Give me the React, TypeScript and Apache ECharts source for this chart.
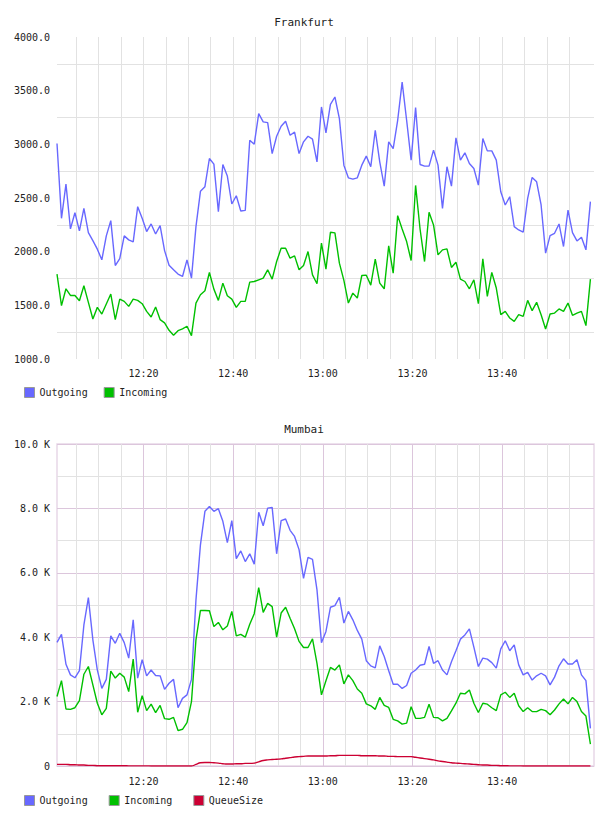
import React, { useEffect, useRef } from "react";
import * as echarts from "echarts";

// minute offsets from 12:00 of each sample (one sample per minute, first at 12:00:42)
const START_MINUTE = 0.7;
const X_MIN = 0.7;
const X_MAX = 120.5;

const timeLabels = [20, 40, 60, 80, 100];
const minorTimeTicks = [5, 10, 15, 25, 30, 35, 45, 50, 55, 65, 70, 75, 85, 90, 95, 105, 110, 115];
const allTimeTicks = [5, 10, 15, 20, 25, 30, 35, 40, 45, 50, 55, 60, 65, 70, 75, 80, 85, 90, 95, 100, 105, 110, 115];

const frankfurtOutgoing = [
  3007, 2311, 2630, 2212, 2363, 2193, 2404, 2178, 2103, 2023,
  1924, 2147, 2289, 1871, 1936, 2147, 2110, 2091, 2419, 2311,
  2187, 2258, 2165, 2243, 2010, 1874, 1831, 1791, 1769, 1924,
  1753, 2233, 2562, 2605, 2868, 2815, 2373, 2812, 2704, 2444,
  2521, 2379, 2385, 3038, 3001, 3286, 3209, 3202, 2914, 3075,
  3168, 3215, 3085, 3113, 2914, 3023, 3075, 3048, 2837, 3348,
  3106, 3373, 3441, 3240, 2806, 2688, 2676, 2688, 2806, 2890,
  2791, 3131, 2837, 2611, 3023, 2961, 3224, 3580, 3224, 2853,
  3342, 2812, 2797, 2797, 2946, 2806, 2404, 2791, 2611, 3060,
  2853, 2921, 2822, 2775, 2620, 3054, 2939, 2939, 2853, 2558,
  2435, 2512, 2233, 2202, 2181, 2497, 2692, 2651, 2435, 1986,
  2150, 2171, 2258, 2048, 2388, 2178, 2100, 2134, 2017, 2466,
];

const frankfurtIncoming = [
  1791, 1497, 1654, 1592, 1592, 1543, 1682, 1528, 1373, 1481,
  1419, 1512, 1605, 1367, 1558, 1537, 1490, 1558, 1546, 1515,
  1444, 1391, 1484, 1367, 1336, 1267, 1221, 1264, 1280, 1305,
  1218, 1521, 1599, 1636, 1806, 1651, 1546, 1707, 1589, 1558,
  1481, 1537, 1537, 1716, 1722, 1738, 1753, 1831, 1744, 1908,
  2032, 2032, 1939, 1961, 1831, 1871, 2001, 1784, 1701, 2079,
  1837, 2181, 2175, 1893, 1732, 1521, 1614, 1568, 1778, 1781,
  1688, 1930, 1707, 1654, 2054, 1800, 2336, 2212, 2094, 1918,
  2617, 2209, 1908, 2367, 2249, 1970, 2017, 2026, 1853, 1902,
  1744, 1722, 1654, 1738, 1515, 1933, 1583, 1806, 1661, 1413,
  1444, 1382, 1351, 1413, 1397, 1546, 1450, 1528, 1413, 1280,
  1419, 1428, 1466, 1444, 1521, 1407, 1428, 1444, 1311, 1744,
];

const mumbaiOutgoing = [
  3840, 4090, 3160, 2830, 2740, 2960, 4380, 5230, 3920, 2980,
  2410, 2690, 4040, 3810, 4120, 3830, 3350, 4540, 2730, 3300,
  2800, 2980, 2810, 2800, 2380, 2570, 2690, 1810, 2100, 2210,
  2690, 5160, 6870, 7910, 8060, 7910, 7990, 7600, 6940, 7620,
  6440, 6680, 6350, 6590, 6270, 7880, 7460, 8010, 8030, 6590,
  7620, 7670, 7320, 7130, 6720, 5830, 6480, 6420, 5470, 3830,
  4180, 4930, 4980, 5240, 4440, 4800, 4540, 4210, 3940, 3270,
  3110, 3050, 3730, 3400, 2960, 2540, 2540, 2410, 2500, 2880,
  2980, 3130, 3160, 3710, 3190, 3270, 2980, 2830, 3240, 3580,
  3940, 4070, 4260, 3690, 3090, 3350, 3320, 3210, 3040, 3640,
  3890, 3580, 3760, 3140, 2830, 2910, 2670, 2800, 2880, 2800,
  2520, 2760, 3110, 3330, 3170, 3170, 3300, 2830, 2650, 1170,
];

const mumbaiIncoming = [
  2160, 2650, 1770, 1760, 1810, 2030, 2850, 3090, 2520, 1950,
  1590, 1790, 2950, 2730, 2880, 2760, 2310, 3320, 1670, 2180,
  1720, 1920, 1660, 1880, 1470, 1450, 1510, 1100, 1140, 1350,
  2000, 3920, 4830, 4830, 4820, 4330, 4460, 4230, 4350, 4800,
  4040, 4090, 4000, 4400, 4730, 5540, 4770, 5050, 4950, 4000,
  4750, 4930, 4590, 4260, 3870, 3680, 3680, 3950, 3190, 2210,
  2650, 3060, 2980, 3140, 2550, 2830, 2650, 2390, 2260, 1930,
  1870, 1760, 2130, 1880, 1820, 1450, 1400, 1300, 1330, 1840,
  1480, 1480, 1510, 1920, 1510, 1500, 1400, 1480, 1710, 1950,
  2260, 2240, 2360, 1950, 1660, 1950, 1920, 1810, 1720, 2210,
  2290, 2130, 2260, 1870, 1690, 1810, 1690, 1690, 1760, 1720,
  1590, 1740, 1930, 2080, 1930, 2130, 2000, 1690, 1550, 680,
];

const mumbaiQueueSize = [
  50, 50, 50, 40, 40, 30, 30, 20, 20, 10,
  10, 10, 10, 10, 10, 10, 5, 5, 5, 5,
  5, 0, 0, 0, 0, 0, 0, 0, 0, 0,
  0, 50, 100, 110, 110, 100, 90, 70, 60, 60,
  70, 70, 80, 80, 90, 130, 170, 190, 200, 210,
  220, 240, 260, 280, 290, 300, 310, 310, 310, 310,
  310, 320, 320, 330, 330, 330, 330, 330, 320, 320,
  320, 320, 310, 310, 300, 300, 290, 290, 290, 290,
  270, 250, 230, 210, 190, 160, 140, 120, 100, 90,
  80, 70, 60, 50, 40, 30, 30, 20, 20, 10,
  10, 5, 5, 5, 0, 0, 0, 0, 0, 0,
  0, 0, 0, 0, 0, 0, 0, 0, 0, 0,
];

const FRANKFURT_Y_LABELS_MIN = 1000;
const FRANKFURT_Y_LABELS_MAX = 4000;
const MUMBAI_Y_MAX = 10000;

const BLUE = "#6868ff";
const GREEN = "#00c000";
const RED = "#cc0033";
const FONT = "DejaVu Sans Mono";
const TEXT = "#222";
const MINOR = "#e2e2e2";
const MAJOR = "#dcc6dc";

function fmtTime(v: number): string {
  const h = 12 + Math.floor(v / 60);
  const m = Math.round(v % 60);
  return `${h}:${m < 10 ? "0" + m : m}`;
}

function pairs(values: number[]) {
  return values.map((v, i) => [START_MINUTE + i, v]);
}

export default function App() {
  const ref = useRef<HTMLDivElement>(null);

  useEffect(() => {
    if (!ref.current) return;
    const chart = echarts.init(ref.current, null, { renderer: "svg" });

    const lineSeries = (name: string, color: string, data: number[], xi: number, yi: number, smooth = false) => ({
      name,
      type: "line",
      xAxisIndex: xi,
      yAxisIndex: yi,
      data: pairs(data),
      showSymbol: false,
      smooth,
      color,
      itemStyle: { color },
      lineStyle: { color, width: 1.4 },
      z: 3,
    });

    const option: any = {
      animation: false,
      backgroundColor: "#fff",
      textStyle: { fontFamily: FONT },
      title: [
        {
          text: "Frankfurt",
          left: "center",
          top: 12,
          textStyle: { fontFamily: FONT, fontSize: 11, fontWeight: "normal", color: TEXT },
        },
        {
          text: "Mumbai",
          left: "center",
          top: 419,
          textStyle: { fontFamily: FONT, fontSize: 11, fontWeight: "normal", color: TEXT },
        },
      ],
      legend: [
        {
          data: ["Outgoing", "Incoming"],
          left: 24,
          top: 387,
          icon: "rect",
          itemWidth: 10,
          itemHeight: 10,
          itemGap: 16,
          padding: 0,
          itemStyle: { borderColor: "#999", borderWidth: 1 },
          textStyle: { fontFamily: FONT, fontSize: 10, color: TEXT },
          selectedMode: false,
        },
        {
          data: ["Outgoing", "Incoming", "QueueSize"],
          left: 24,
          top: 795,
          icon: "rect",
          itemWidth: 10,
          itemHeight: 10,
          itemGap: 21,
          padding: 0,
          itemStyle: { borderColor: "#999", borderWidth: 1 },
          textStyle: { fontFamily: FONT, fontSize: 10, color: TEXT },
          selectedMode: false,
        },
      ],
      grid: [
        { left: 57, top: 37, width: 537, height: 322 },
        { left: 57, top: 444, width: 537, height: 322, show: true, borderColor: "#e8d8e8", borderWidth: 1.5, backgroundColor: "transparent" },
      ],
      xAxis: [
        {
          gridIndex: 0,
          type: "value",
          min: X_MIN,
          max: X_MAX,
          axisLine: { show: false },
          axisTick: { show: false, customValues: allTimeTicks },
          axisLabel: {
            customValues: timeLabels,
            formatter: fmtTime,
            fontFamily: FONT,
            fontSize: 10,
            color: TEXT,
            margin: 9,
          },
          splitLine: { show: true, lineStyle: { color: MINOR, width: 1 } },
        },
        {
          gridIndex: 1,
          type: "value",
          min: X_MIN,
          max: X_MAX,
          position: "top",
          axisLine: { show: false },
          axisTick: { show: false, customValues: minorTimeTicks },
          axisLabel: { show: false },
          splitLine: { show: true, lineStyle: { color: MINOR, width: 1 } },
        },
        {
          gridIndex: 1,
          type: "value",
          min: X_MIN,
          max: X_MAX,
          position: "bottom",
          axisLine: { show: false },
          axisTick: { show: false, customValues: timeLabels },
          axisLabel: {
            customValues: timeLabels,
            formatter: fmtTime,
            fontFamily: FONT,
            fontSize: 10,
            color: TEXT,
            margin: 10,
          },
          splitLine: { show: true, lineStyle: { color: MAJOR, width: 1 } },
        },
      ],
      yAxis: [
        {
          gridIndex: 0,
          type: "value",
          min: FRANKFURT_Y_LABELS_MIN,
          max: FRANKFURT_Y_LABELS_MAX,
          interval: 500,
          axisLine: { show: false },
          axisTick: { show: false },
          axisLabel: {
            formatter: (v: number) => v.toFixed(1),
            fontFamily: FONT,
            fontSize: 10,
            color: TEXT,
            margin: 7,
          },
          splitLine: { show: false },
          minorTick: { show: false, splitNumber: 2 },
          minorSplitLine: { show: true, lineStyle: { color: MINOR, width: 1 } },
        },
        {
          gridIndex: 1,
          type: "value",
          min: 0,
          max: MUMBAI_Y_MAX,
          interval: 2000,
          axisLine: { show: false },
          axisTick: { show: false },
          axisLabel: {
            formatter: (v: number) => (v === 0 ? "0" : (v / 1000).toFixed(1) + " K"),
            fontFamily: FONT,
            fontSize: 10,
            color: TEXT,
            margin: 7,
          },
          splitLine: { show: true, lineStyle: { color: MAJOR, width: 1 } },
          minorTick: { show: false, splitNumber: 2 },
          minorSplitLine: { show: true, lineStyle: { color: MINOR, width: 1 } },
        },
      ],
      series: [
        lineSeries("Outgoing", BLUE, frankfurtOutgoing, 0, 0),
        lineSeries("Incoming", GREEN, frankfurtIncoming, 0, 0),
        lineSeries("Outgoing", BLUE, mumbaiOutgoing, 2, 1),
        lineSeries("Incoming", GREEN, mumbaiIncoming, 2, 1),
        lineSeries("QueueSize", RED, mumbaiQueueSize, 2, 1, true),
      ],
    };

    chart.setOption(option);
    return () => chart.dispose();
  }, []);

  return (
    <div
      ref={ref}
      style={{ position: "absolute", left: 0, top: 0, width: 608, height: 816, background: "#fff" }}
    />
  );
}
